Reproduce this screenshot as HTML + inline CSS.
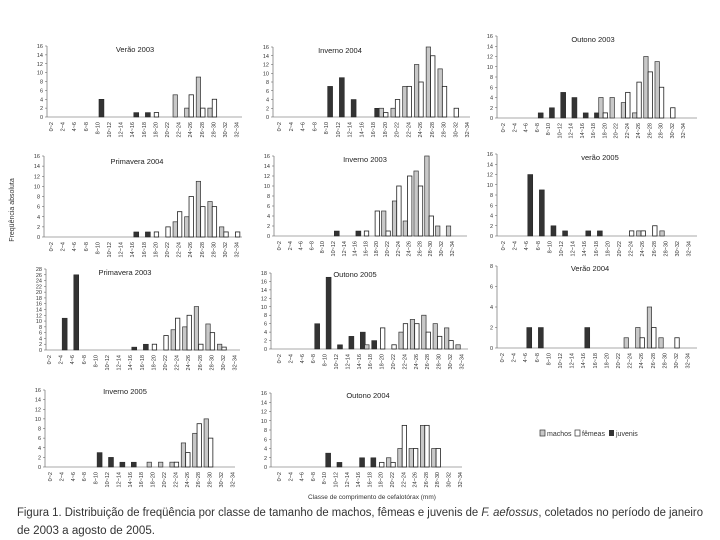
<!DOCTYPE html>
<html><head><meta charset="utf-8"><style>
html,body{margin:0;padding:0;background:#fff;}
svg{display:block;font-family:"Liberation Sans",sans-serif;}
</style></head><body>
<svg id="fig" width="720" height="540" viewBox="0 0 720 540">
<text x="14" y="210" font-size="7" fill="#333" transform="rotate(-90 14 210)" text-anchor="middle">Freqüência absoluta</text>
<text x="372" y="499" font-size="6.5" fill="#333" text-anchor="middle">Classe de comprimento de cefalotórax (mm)</text>
<g font-size="7" fill="#333">
<rect x="540" y="430" width="5" height="6" fill="#c8c8c8" stroke="#333" stroke-width="0.7"/>
<text x="547" y="436">machos</text>
<rect x="575" y="430" width="5" height="6" fill="#fff" stroke="#333" stroke-width="0.7"/>
<text x="582" y="436">fêmeas</text>
<rect x="609" y="430" width="5" height="6" fill="#333"/>
<text x="616" y="436">juvenis</text>
</g>
<text x="17" y="516" font-size="11.5" fill="#333" textLength="686" lengthAdjust="spacingAndGlyphs">Figura 1. Distribuição de freqüência por classe de tamanho de machos, fêmeas e juvenis de <tspan font-style="italic">F. aefossus</tspan>, coletados no período de janeiro</text>
<text x="17" y="534" font-size="11.5" fill="#333" textLength="138" lengthAdjust="spacingAndGlyphs">de 2003 a agosto de 2005.</text>
</svg>
<script>
const categories = ["0~2","2~4","4~6","6~8","8~10","10~12","12~14","14~16","16~18","18~20","20~22","22~24","24~26","26~28","28~30","30~32","32~34"];
// machos / femeas / juvenis per panel (17 classes each)
const verao2003Machos   = [0,0,0,0,0,0,0,0,0,0,0,5,2,9,2,0,0];
const verao2003Femeas   = [0,0,0,0,0,0,0,0,0,1,0,0,5,2,4,0,0];
const verao2003Juvenis  = [0,0,0,0,4,0,0,1,1,0,0,0,0,0,0,0,0];
const inverno2004Machos  = [0,0,0,0,0,0,0,0,0,2,2,7,12,16,11,0,0];
const inverno2004Femeas  = [0,0,0,0,0,0,0,0,0,1,4,7,8,14,7,2,0];
const inverno2004Juvenis = [0,0,0,0,7,9,4,0,2,0,0,0,0,0,0,0,0];
const outono2003Machos  = [0,0,0,0,0,0,0,0,0,4,4,3,1,12,11,0,0];
const outono2003Femeas  = [0,0,0,0,0,0,0,0,0,1,0,5,7,9,6,2,0];
const outono2003Juvenis = [0,0,0,1,2,5,4,1,1,0,0,0,0,0,0,0,0];
const primavera2004Machos  = [0,0,0,0,0,0,0,0,0,0,0,3,4,11,7,2,0];
const primavera2004Femeas  = [0,0,0,0,0,0,0,0,0,1,2,5,8,6,6,1,1];
const primavera2004Juvenis = [0,0,0,0,0,0,0,1,1,0,0,0,0,0,0,0,0];
const inverno2003Machos  = [0,0,0,0,0,0,0,0,0,0,5,7,3,13,16,2,2];
const inverno2003Femeas  = [0,0,0,0,0,0,0,0,1,5,1,10,12,10,4,0,0];
const inverno2003Juvenis = [0,0,0,0,0,1,0,1,0,0,0,0,0,0,0,0,0];
const verao2005Machos  = [0,0,0,0,0,0,0,0,0,0,0,0,1,0,1,0,0];
const verao2005Femeas  = [0,0,0,0,0,0,0,0,0,0,0,1,1,2,0,0,0];
const verao2005Juvenis = [0,0,12,9,2,1,0,1,1,0,0,0,0,0,0,0,0];
const primavera2003Machos  = [0,0,0,0,0,0,0,0,0,0,0,7,8,15,9,2,0];
const primavera2003Femeas  = [0,0,0,0,0,0,0,0,0,2,5,11,12,2,6,1,0];
const primavera2003Juvenis = [0,11,26,0,0,0,0,1,2,0,0,0,0,0,0,0,0];
const outono2005Machos  = [0,0,0,0,0,0,0,0,1,0,0,4,7,8,6,5,1];
const outono2005Femeas  = [0,0,0,0,0,0,0,0,0,5,1,6,6,4,3,2,0];
const outono2005Juvenis = [0,0,0,6,17,1,3,4,2,0,0,0,0,0,0,0,0];
const verao2004Machos  = [0,0,0,0,0,0,0,0,0,0,0,1,2,4,1,0,0];
const verao2004Femeas  = [0,0,0,0,0,0,0,0,0,0,0,0,1,2,0,1,0];
const verao2004Juvenis = [0,0,2,2,0,0,0,2,0,0,0,0,0,0,0,0,0];
const inverno2005Machos  = [0,0,0,0,0,0,0,0,0,1,1,1,5,7,10,0,0];
const inverno2005Femeas  = [0,0,0,0,0,0,0,0,0,0,0,1,3,9,6,0,0];
const inverno2005Juvenis = [0,0,0,0,3,2,1,1,0,0,0,0,0,0,0,0,0];
const outono2004Machos  = [0,0,0,0,0,0,0,0,0,0,2,4,4,9,4,0,0];
const outono2004Femeas  = [0,0,0,0,0,0,0,0,0,1,1,9,4,9,4,0,0];
const outono2004Juvenis = [0,0,0,0,3,1,0,2,2,0,0,0,0,0,0,0,0];
const panelTitles = ["Verão 2003","Inverno 2004","Outono 2003","Primavera 2004","Inverno 2003","verão 2005","Primavera 2003","Outono 2005","Verão 2004","Inverno 2005","Outono 2004"];
const panelMax = [16,16,16,16,16,16,28,18,8,16,16];

const layout = [
 {ax:47,y0:117,top:46,x0:51,step:11.6,end:242,tx:135,ty:52,name:"verao-2003"},
 {ax:273,y0:117,top:47,x0:279,step:11.75,end:470,tx:340,ty:53,name:"inverno-2004"},
 {ax:497,y0:118,top:36,x0:503,step:11.25,end:697,tx:593,ty:42,name:"outono-2003"},
 {ax:44,y0:237,top:156,x0:51,step:11.6,end:242,tx:137,ty:164,name:"primavera-2004"},
 {ax:274,y0:236,top:156,x0:279,step:10.8,end:467,tx:365,ty:162,name:"inverno-2003"},
 {ax:497,y0:236,top:154,x0:503,step:11.6,end:697,tx:600,ty:160,name:"verao-2005"},
 {ax:46,y0:350,top:269,x0:49,step:11.6,end:240,tx:125,ty:275,name:"primavera-2003"},
 {ax:271,y0:349,top:273,x0:279,step:11.4,end:468,tx:355,ty:277,name:"outono-2005"},
 {ax:497,y0:348,top:266,x0:502,step:11.6,end:697,tx:590,ty:271,name:"verao-2004"},
 {ax:45,y0:467,top:390,x0:50,step:11.4,end:235,tx:125,ty:394,name:"inverno-2005"},
 {ax:271,y0:467,top:393,x0:279,step:11.3,end:462,tx:368,ty:398,name:"outono-2004"}
];
const series = [
 [verao2003Machos,verao2003Femeas,verao2003Juvenis],
 [inverno2004Machos,inverno2004Femeas,inverno2004Juvenis],
 [outono2003Machos,outono2003Femeas,outono2003Juvenis],
 [primavera2004Machos,primavera2004Femeas,primavera2004Juvenis],
 [inverno2003Machos,inverno2003Femeas,inverno2003Juvenis],
 [verao2005Machos,verao2005Femeas,verao2005Juvenis],
 [primavera2003Machos,primavera2003Femeas,primavera2003Juvenis],
 [outono2005Machos,outono2005Femeas,outono2005Juvenis],
 [verao2004Machos,verao2004Femeas,verao2004Juvenis],
 [inverno2005Machos,inverno2005Femeas,inverno2005Juvenis],
 [outono2004Machos,outono2004Femeas,outono2004Juvenis]
];
const NS="http://www.w3.org/2000/svg";
const svg=document.getElementById("fig");
function mk(tag,attrs,parent){const e=document.createElementNS(NS,tag);for(const k in attrs)e.setAttribute(k,attrs[k]);parent.appendChild(e);return e;}
layout.forEach((L,p)=>{
  const g=mk("g",{},svg);
  
  
  const max=panelMax[p];
  const y=v=>L.y0-(v/max)*(L.y0-L.top);
  const lx=i=>L.x0+i*L.step;
  const t=mk("text",{x:L.tx,y:L.ty,"font-size":"7.5","fill":"#222","text-anchor":"middle"},g);
  t.textContent=panelTitles[p];
  
  
  const ya=mk("line",{x1:L.ax,y1:L.top,x2:L.ax,y2:L.y0,stroke:"#555","stroke-width":"0.6"},g);
  
  
  const xa=mk("line",{x1:L.ax,y1:L.y0,x2:L.end,y2:L.y0,stroke:"#555","stroke-width":"0.6"},g);
  
  
  for(let v=0;v<=max;v+=2){
    const yy=y(v);
    mk("line",{x1:L.ax-2,y1:yy,x2:L.ax,y2:yy,stroke:"#555","stroke-width":"0.5"},g);
    const tl=mk("text",{x:L.ax-4,y:yy+2,"font-size":"5.5","fill":"#333","text-anchor":"end"},g);
    tl.textContent=v;
    
    
  }
  categories.forEach((c,i)=>{
    const x=lx(i)+2, yy=L.y0+5;
    const tl=mk("text",{x:x,y:yy,"font-size":"5.5","fill":"#333","text-anchor":"end",transform:`rotate(-90 ${x} ${yy})`},g);
    tl.textContent=c;
    
    
  });
  const [m,f,j]=series[p];
  const bw=4.4;
  categories.forEach((c,i)=>{
    const pc=lx(i)-0.1*L.step;
    if(j[i]>0){
      const bx=lx(i)+0.35*L.step-2.5;
      const r=mk("rect",{x:bx,y:y(j[i]),width:5,height:L.y0-y(j[i]),fill:"#333",stroke:"#222","stroke-width":"0.5"},g);
      
      
    }
    if(m[i]>0){
      const r=mk("rect",{x:pc-bw,y:y(m[i]),width:bw,height:L.y0-y(m[i]),fill:"#c8c8c8",stroke:"#333","stroke-width":"0.7"},g);
      
      
    }
    if(f[i]>0){
      const r=mk("rect",{x:pc,y:y(f[i]),width:bw,height:L.y0-y(f[i]),fill:"#fff",stroke:"#222","stroke-width":"0.8"},g);
      
      
    }
  });
});
</script>
</body></html>
